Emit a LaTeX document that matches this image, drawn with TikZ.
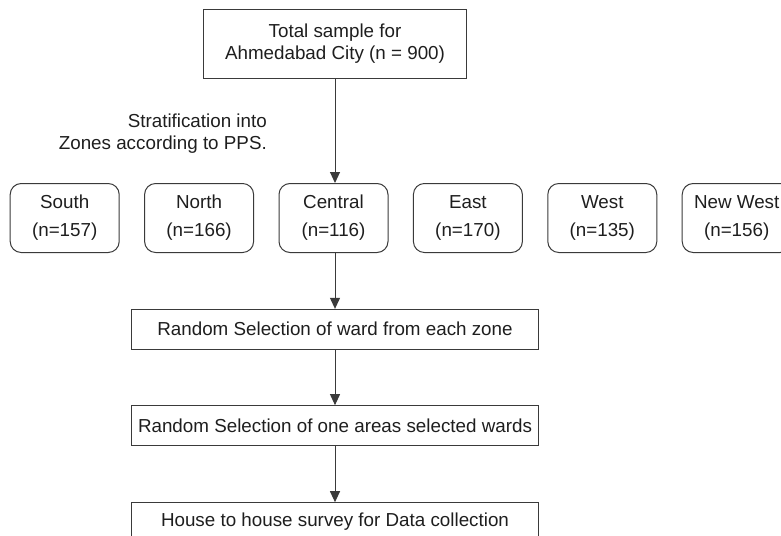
\documentclass[tikz,border=0pt]{standalone}
\usepackage{fontspec}
\setmainfont{Liberation Sans}
\usetikzlibrary{arrows.meta}
\definecolor{linec}{HTML}{3A3A3A}
\definecolor{txtc}{HTML}{1E1E1E}
\begin{document}
\begin{tikzpicture}[x=1pt,y=-1pt,
  box/.style={draw=linec, line width=1pt, inner sep=0pt, align=center, text=txtc,
    font=\fontsize{18.8}{22.6}\selectfont},
  zone/.style={box, rounded corners=11pt, minimum width=109pt, minimum height=69pt,
    font=\fontsize{18.8}{28}\selectfont},
  wide/.style={box, minimum width=406.6pt, minimum height=39.7pt},
  arr/.style={draw=linec, line width=1pt, -{Triangle[width=10pt,length=11pt]}}]
\path[use as bounding box] (0,0) rectangle (781,535);
\clip (0,0) rectangle (781,535);
\node[box, minimum width=263.4pt, minimum height=68.7pt] (top) at (335,43.7)
  {Total sample for\\Ahmedabad City (n = 900)};
\node[anchor=east, align=right, inner sep=0pt, text=txtc, font=\fontsize{18.8}{22}\selectfont] (strat) at (267,134)
  {Stratification into\\Zones according to PPS.};
\node[zone] (south) at (64.7,218) {South\\(n=157)};
\node[zone] (north) at (199.1,218) {North\\(n=166)};
\node[zone] (central) at (333.5,218) {Central\\(n=116)};
\node[zone] (east) at (467.9,218) {East\\(n=170)};
\node[zone] (west) at (602.3,218) {West\\(n=135)};
\node[zone] (newwest) at (736.7,218) {New West\\(n=156)};
\node[wide] (r1) at (335,329.2) {Random Selection of ward from each zone};
\node[wide] (r2) at (335,425.5) {Random Selection of one areas selected wards};
\node[box, minimum width=406.6pt, minimum height=38pt] (house) at (335,521.7) {House to house survey for Data collection};
\draw[arr] (top.south) -- (top.south |- central.north);
\draw[arr] (r1.north |- central.south) -- (r1.north);
\draw[arr] (r1.south) -- (r2.north);
\draw[arr] (r2.south) -- (house.north);
\end{tikzpicture}
\end{document}
